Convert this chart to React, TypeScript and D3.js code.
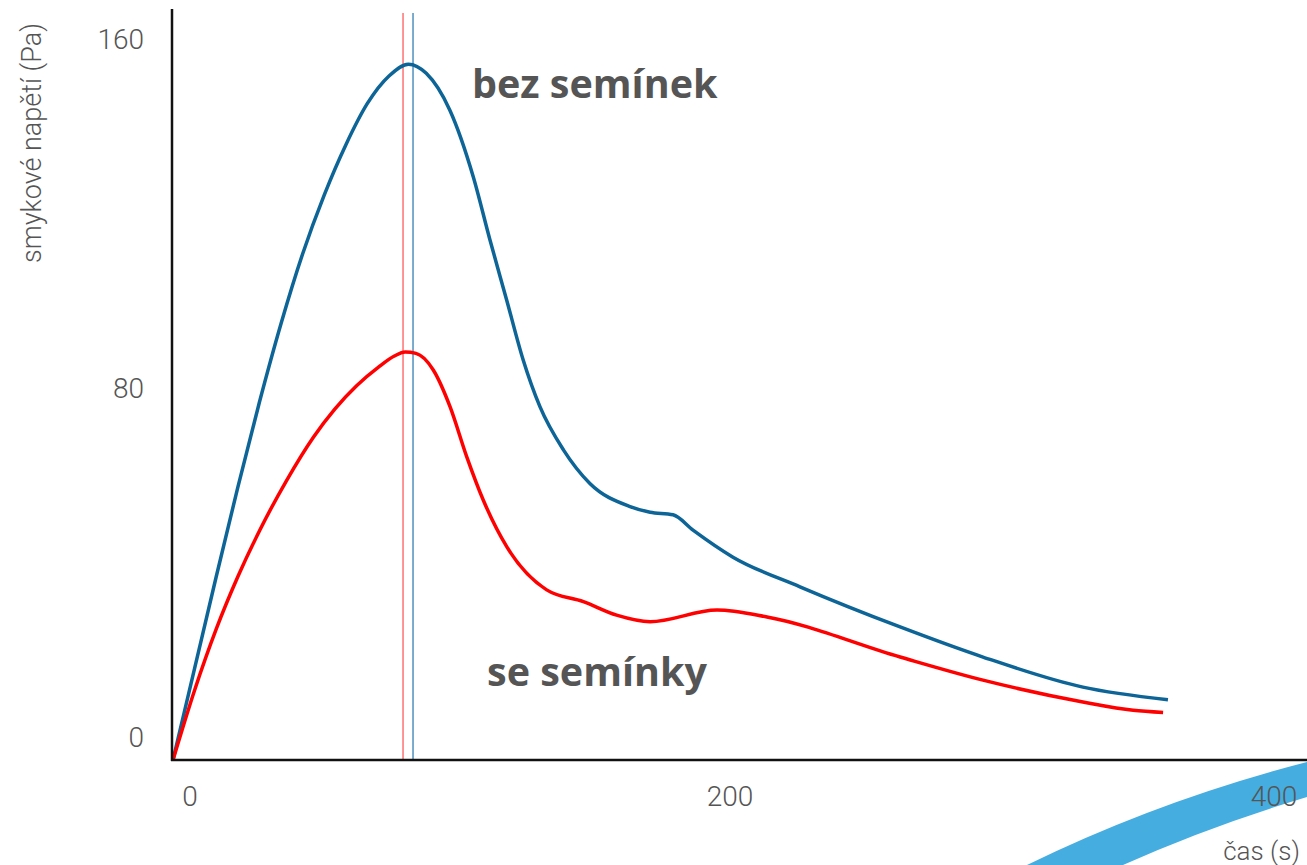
import * as d3 from 'd3';

// time (s) vs. shear stress (Pa)
const bezTime = [0, 8, 16, 24, 32, 40, 48, 56, 64, 72, 80, 87.2, 93.8, 102.5, 111.2, 117.4, 123.6, 129.7, 135.9, 144.6, 154.4, 169.3, 176.7, 185.2, 192.6, 207.4, 232.2, 269.3, 300, 337, 368.5];
const bezStress = [0, 21, 42, 62.5, 82, 100, 116, 129.5, 141, 150.5, 156.8, 159.5, 157.4, 149, 133.7, 119.2, 105.4, 91.7, 81, 71.1, 63.4, 58.1, 56.8, 56.2, 52.7, 46.5, 39.7, 30.5, 23.6, 16.7, 13.8];

const seTime = [0, 8, 16, 24, 32, 42, 52, 60, 68, 76, 82, 86, 90, 96.4, 102.6, 108.8, 114.9, 123.6, 138.4, 152, 164.3, 176.7, 201.5, 220, 269.3, 300, 337, 355.6, 366.7];
const seStress = [0, 16, 30, 42, 52.5, 64, 74, 80.5, 85.8, 90, 92.6, 93.5, 93.2, 89.4, 81, 69.5, 59.6, 48.9, 39, 36.3, 33.2, 31.7, 34.4, 32.8, 23.6, 18.3, 13.3, 11.4, 10.9];

const peakSe = 85.2;
const peakBez = 88.9;

const xTicks = [0, 200, 400];
const yTicks = [0, 80, 160];

const W = 1307, H = 865;

export default function App() {
  const x = d3.scaleLinear().domain([0, 400]).range([173, 1253]);
  const y = d3.scaleLinear().domain([0, 160]).range([760, 62]);

  const line = d3.line<[number, number]>()
    .x(d => x(d[0]))
    .y(d => y(d[1]))
    .curve(d3.curveMonotoneX);

  const bez = bezTime.map((t, i) => [t, bezStress[i]] as [number, number]);
  const se = seTime.map((t, i) => [t, seStress[i]] as [number, number]);

  const tickFont = { fontFamily: 'Roboto', fontWeight: 300, fill: '#555' };

  return (
    <svg width={W} height={H} style={{ position: 'absolute', left: 0, top: 0, background: '#fff' }}>
      {/* decorative swoosh */}
      <path d="M1027,865 Q1160,800 1307,762 L1307,797 Q1210,826 1123,865 Z" fill="#45ade0" />

      {/* peak markers */}
      <line x1={x(peakSe)} x2={x(peakSe)} y1={13} y2={760} stroke="#ff7b7b" strokeWidth={1.6} />
      <line x1={x(peakBez)} x2={x(peakBez)} y1={13} y2={760} stroke="#5b97c2" strokeWidth={1.6} />

      <path d={line(bez) || ''} fill="none" stroke="#0d6496" strokeWidth={3.5} />
      <path d={line(se) || ''} fill="none" stroke="#ff0000" strokeWidth={3.5} />

      {/* axes */}
      <line x1={172} x2={172} y1={9} y2={761} stroke="#111" strokeWidth={2.5} />
      <line x1={171} x2={W} y1={760} y2={760} stroke="#111" strokeWidth={2.5} />

      {yTicks.map(v => (
        <text key={'y' + v} x={144} y={y(v) - 13} textAnchor="end" fontSize={28} {...tickFont}>{v}</text>
      ))}
      {xTicks.map(v => (
        <text key={'x' + v} x={x(v) + 17 + (v === 400 ? 4 : 0)} y={806} textAnchor="middle" fontSize={28} {...tickFont}>{v}</text>
      ))}

      <text transform="translate(41,143) rotate(-90)" textAnchor="middle" fontSize={27} {...tickFont}>smykové napětí (Pa)</text>
      <text x={1300} y={860} textAnchor="end" fontSize={26} {...tickFont}>čas (s)</text>

      <text x={472} y={98} fontFamily="Open Sans" fontWeight={700} fontSize={39.5} fill="#555">bez semínek</text>
      <text x={487} y={686} fontFamily="Open Sans" fontWeight={700} fontSize={39.5} fill="#555">se semínky</text>
    </svg>
  );
}
